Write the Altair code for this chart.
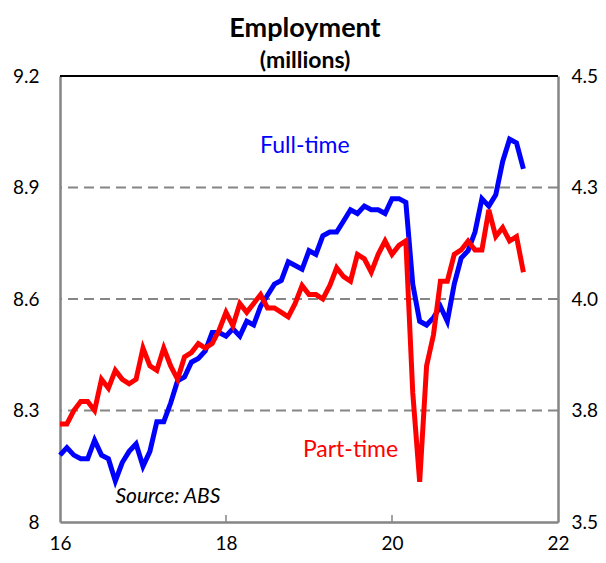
import altair as alt
import pandas as pd

# Monthly data, Jan 2016 - Aug 2021
start_year = 2016
n_months = 68
full_time = [8.18, 8.20, 8.18, 8.17, 8.17, 8.22, 8.18, 8.17, 8.11, 8.16, 8.19, 8.21,
             8.15, 8.19, 8.27, 8.27, 8.32, 8.38, 8.39, 8.43, 8.44, 8.46, 8.51, 8.51,
             8.50, 8.52, 8.50, 8.54, 8.53, 8.58, 8.61, 8.64, 8.65, 8.70, 8.69, 8.68,
             8.73, 8.72, 8.77, 8.78, 8.78, 8.81, 8.84, 8.83, 8.85, 8.84, 8.84, 8.83,
             8.87, 8.87, 8.86, 8.64, 8.54, 8.53, 8.55, 8.58, 8.54, 8.64, 8.71, 8.73,
             8.78, 8.87, 8.85, 8.88, 8.97, 9.03, 9.02, 8.95]
part_time = [3.72, 3.72, 3.75, 3.77, 3.77, 3.75, 3.82, 3.80, 3.84, 3.82, 3.81, 3.82,
             3.89, 3.85, 3.84, 3.89, 3.85, 3.82, 3.87, 3.88, 3.90, 3.89, 3.90, 3.93,
             3.97, 3.94, 3.99, 3.97, 3.99, 4.01, 3.98, 3.98, 3.97, 3.96, 3.99, 4.03,
             4.01, 4.01, 4.00, 4.03, 4.07, 4.05, 4.04, 4.10, 4.09, 4.06, 4.10, 4.13,
             4.10, 4.12, 4.13, 3.79, 3.59, 3.85, 3.92, 4.04, 4.04, 4.10, 4.11, 4.13,
             4.11, 4.11, 4.20, 4.14, 4.16, 4.13, 4.14, 4.06]

x_ticks = [16, 18, 20, 22]
left_ticks = [8, 8.3, 8.6, 8.9, 9.2]
right_ticks = [3.5, 3.75, 4.0, 4.25, 4.5]
grid_levels = [8.3, 8.6, 8.9]

dates = pd.date_range(f"{start_year}-01-01", periods=n_months, freq="MS")
yr = [(d.year - 2000) + (d.month - 1) / 12 for d in dates]
df = pd.DataFrame({"yr": yr, "full": full_time, "part": part_time})

FONT = "Lato"
GREY = "#858585"
W, H = 498, 446

xs = alt.Scale(domain=[16, 22], nice=False, zero=False)
ls = alt.Scale(domain=[8, 9.2], nice=False, zero=False)
rs = alt.Scale(domain=[3.5, 4.5], nice=False, zero=False)

x_axis = alt.Axis(values=x_ticks, format="d", title=None, ticks=False, grid=False,
                  labelFont=FONT, labelFontSize=19, labelColor="black",
                  labelFlush=False, labelPadding=12, domainColor=GREY, domainWidth=2.5)

grid = alt.Chart(pd.DataFrame({"g": grid_levels})).mark_rule(
    color=GREY, strokeWidth=2, strokeDash=[10, 6]
).encode(y=alt.Y("g:Q", scale=ls, axis=None))

top = alt.Chart(pd.DataFrame({"t": [9.2]})).mark_rule(
    color="black", strokeWidth=2
).encode(y=alt.Y("t:Q", scale=ls, axis=None))

xtick = alt.Chart(pd.DataFrame({"x": [18, 20]})).mark_rule(
    color=GREY, strokeWidth=1.5
).encode(x=alt.X("x:Q", scale=xs, axis=x_axis), y=alt.value(H), y2=alt.value(H - 7))

blue = alt.Chart(df).mark_line(color="#0000FF", strokeWidth=5).encode(
    x=alt.X("yr:Q", scale=xs, axis=x_axis),
    y=alt.Y("full:Q", scale=ls, axis=alt.Axis(
        orient="left", values=left_ticks, format=".1~f", title=None, ticks=False,
        grid=False, labelFont=FONT, labelFontSize=19, labelColor="black",
        labelFlush=False, labelPadding=21, domainColor=GREY, domainWidth=2.5)),
)

red = alt.Chart(df).mark_line(color="#FF0000", strokeWidth=5).encode(
    x=alt.X("yr:Q", scale=xs, axis=x_axis),
    y=alt.Y("part:Q", scale=rs, axis=alt.Axis(
        orient="right", values=right_ticks, format=".1f", title=None, ticks=False,
        grid=False, labelFont=FONT, labelFontSize=19, labelColor="black",
        labelFlush=False, labelPadding=13, domainColor=GREY, domainWidth=2.5)),
)

labels = pd.DataFrame({
    "x": [18.95, 19.5],
    "y": [9.012, 8.194],
    "txt": ["Full-time", "Part-time"],
    "c": ["#0000FF", "#FF0000"],
})
ann = alt.Chart(labels).mark_text(font=FONT, fontSize=23).encode(
    x=alt.X("x:Q", scale=xs, axis=x_axis),
    y=alt.Y("y:Q", scale=ls, axis=None),
    text="txt:N",
    color=alt.Color("c:N", scale=None),
)

src = alt.Chart(pd.DataFrame({"x": [17.3], "y": [8.067], "txt": ["Source: ABS"]})).mark_text(
    font=FONT, fontSize=21, fontStyle="italic", color="black"
).encode(
    x=alt.X("x:Q", scale=xs, axis=x_axis),
    y=alt.Y("y:Q", scale=ls, axis=None),
    text="txt:N",
)

title = alt.Chart(pd.DataFrame({"txt": ["Employment"]})).mark_text(
    font=FONT, fontSize=27, fontWeight="bold", color="black"
).encode(x=alt.value(245), y=alt.value(-47), text="txt:N")

subtitle = alt.Chart(pd.DataFrame({"txt": ["(millions)"]})).mark_text(
    font=FONT, fontSize=23, fontWeight="bold", color="black"
).encode(x=alt.value(245), y=alt.value(-15), text="txt:N")

chart = alt.layer(grid, top, xtick, blue, red, ann, src, title, subtitle).resolve_scale(
    y="independent"
).properties(
    width=W, height=H,
    autosize=alt.AutoSizeParams(type="none"),
    padding={"left": 52, "top": 68, "right": 40, "bottom": 33},
    background="white",
).configure_view(stroke=None)

chart.save("out.html", embed_options={"renderer": "svg", "actions": False})
